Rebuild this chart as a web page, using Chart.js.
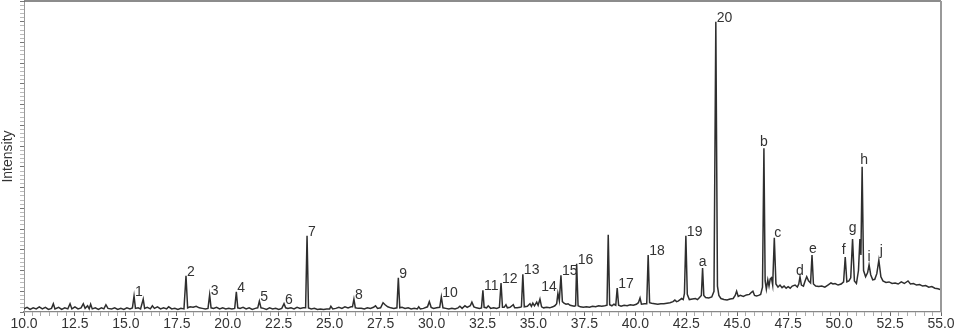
<!DOCTYPE html>
<html lang="en">
<head>
  <meta charset="UTF-8" />
  <title>Chromatogram</title>
  <script src="https://cdn.jsdelivr.net/npm/chart.js"></script>
  <style>
    body { margin: 0; background: #fff; }
    #wrap { width: 957px; height: 331px; }
  </style>
</head>
<body>
<div id="wrap"><canvas id="chrom" width="957" height="331"></canvas></div>
<script>
  // retention time (min) and detector response
  const times = [
    10.0, 10.15, 10.3, 10.45, 10.6, 10.75, 10.9, 11.05, 11.2, 11.35, 11.44, 11.52, 11.7, 11.85,
    12.0, 12.15, 12.26, 12.35, 12.5, 12.65, 12.8, 12.91, 13.0, 13.12, 13.2, 13.27, 13.35, 13.5,
    13.65, 13.8, 13.92, 14.02, 14.12, 14.3, 14.45, 14.6, 14.75, 14.9, 15.05, 15.2, 15.32, 15.40,
    15.47, 15.6, 15.72, 15.85, 15.92, 16.05, 16.2, 16.3, 16.4, 16.55, 16.7, 16.85, 17.0, 17.1,
    17.25, 17.4, 17.55, 17.7, 17.85, 17.95, 18.03, 18.15, 18.3, 18.45, 18.6, 18.75, 18.9, 19.03,
    19.11, 19.18, 19.3, 19.45, 19.6, 19.75, 19.9, 20.05, 20.2, 20.34, 20.42, 20.49, 20.6, 20.75,
    20.9, 21.05, 21.2, 21.35, 21.47, 21.55, 21.63, 21.75, 21.9, 22.05, 22.2, 22.35, 22.5, 22.65,
    22.76, 22.84, 22.95, 23.1, 23.25, 23.4, 23.55, 23.7, 23.82, 23.89, 23.96, 24.1, 24.25, 24.4,
    24.55, 24.7, 24.85, 25.0, 25.06, 25.15, 25.3, 25.45, 25.6, 25.75, 25.9, 26.05, 26.12, 26.19,
    26.26, 26.4, 26.55, 26.7, 26.85, 27.0, 27.15, 27.25, 27.35, 27.5, 27.62, 27.72, 27.85, 28.0,
    28.15, 28.3, 28.37, 28.44, 28.55, 28.7, 28.85, 29.0, 29.15, 29.3, 29.37, 29.45, 29.6, 29.8,
    29.89, 29.98, 30.1, 30.25, 30.4, 30.48, 30.56, 30.7, 30.85, 31.0, 31.15, 31.3, 31.39, 31.5,
    31.64, 31.75, 31.9, 31.98, 32.08, 32.2, 32.35, 32.45, 32.52, 32.58, 32.7, 32.78, 32.9, 33.05,
    33.2, 33.33, 33.41, 33.48, 33.56, 33.65, 33.72, 33.85, 34.01, 34.08, 34.2, 34.35, 34.41, 34.48,
    34.55, 34.7, 34.83, 34.9, 34.97, 35.05, 35.16, 35.23, 35.32, 35.4, 35.5, 35.65, 35.8, 35.95,
    36.05, 36.14, 36.2, 36.27, 36.35, 36.42, 36.5, 36.6, 36.7, 36.8, 36.9, 37.0, 37.07, 37.12,
    37.19, 37.3, 37.45, 37.6, 37.75, 37.9, 38.05, 38.2, 38.35, 38.5, 38.61, 38.67, 38.74, 38.85,
    38.95, 39.04, 39.11, 39.18, 39.3, 39.45, 39.6, 39.75, 39.9, 40.05, 40.15, 40.23, 40.3, 40.45,
    40.56, 40.63, 40.7, 40.8, 40.95, 41.1, 41.25, 41.4, 41.55, 41.7, 41.85, 41.94, 42.02, 42.1,
    42.2, 42.27, 42.35, 42.41, 42.48, 42.55, 42.65, 42.8, 42.95, 43.05, 43.15, 43.24, 43.30, 43.36,
    43.45, 43.6, 43.75, 43.86, 43.95, 44.03, 44.1, 44.2, 44.35, 44.5, 44.65, 44.8, 44.9, 44.97,
    45.05, 45.15, 45.3, 45.45, 45.6, 45.7, 45.77, 45.85, 45.95, 46.05, 46.15, 46.24, 46.31, 46.37,
    46.43, 46.5, 46.56, 46.62, 46.68, 46.74, 46.82, 46.9, 47.0, 47.1, 47.2, 47.3, 47.4, 47.5,
    47.6, 47.7, 47.84, 47.95, 48.02, 48.08, 48.15, 48.25, 48.33, 48.41, 48.5, 48.6, 48.67, 48.74,
    48.85, 49.0, 49.15, 49.3, 49.45, 49.6, 49.7, 49.8, 49.95, 50.1, 50.22, 50.30, 50.38, 50.48,
    50.57, 50.66, 50.75, 50.85, 50.95, 51.02, 51.07, 51.13, 51.2, 51.3, 51.4, 51.47, 51.55, 51.65,
    51.75, 51.85, 51.95, 52.05, 52.15, 52.3, 52.45, 52.6, 52.75, 52.9, 53.05, 53.2, 53.38, 53.5,
    53.65, 53.8, 53.95, 54.1, 54.25, 54.4, 54.55, 54.7, 54.85, 55.0
  ];
  const intensity = [
    3, 4.5, 2.5, 4, 3, 5, 3, 4.5, 2.5, 3.5, 8, 3, 4.5, 2.5,
    4, 3, 8, 3, 5, 3, 4, 8, 3.5, 6, 3, 7.5, 3, 4,
    2.5, 4, 3, 7, 3.5, 3, 4, 2.5, 3.5, 2.5, 4, 3, 4, 15.5,
    3.5, 4, 3, 12.5, 3.5, 4.5, 3, 6, 3.5, 5, 3, 4, 3, 5,
    3, 3.5, 2.5, 3.5, 3, 35, 4, 5, 4.5, 5.5, 4, 3.5, 3, 3.5,
    16.5, 4, 3.5, 4.5, 3, 4, 3, 3.5, 3, 3.5, 19.5, 4, 3.5, 4.5,
    3, 4, 2.5, 3.5, 4, 10.5, 4, 3.5, 2.5, 4, 3, 3.5, 2.5, 3.5,
    8, 4, 3.5, 4, 3, 4.5, 3.5, 4, 4, 73.5, 4, 3, 3.5, 2.5,
    3, 2.5, 3, 3, 5.5, 3, 3.5, 4.5, 3.5, 5, 4, 5, 5, 12.5,
    4, 3.5, 3.5, 3, 4, 3.5, 4.5, 6, 3.5, 4, 9, 7, 5, 4,
    3.5, 4, 33, 4, 4.5, 3.5, 4, 3, 3.5, 3, 5, 3, 3.5, 5,
    10, 4.5, 3.5, 4, 4.5, 14.5, 4, 3.5, 3, 3.5, 3, 4, 5.5, 3.5,
    6, 4.5, 6, 9.5, 5, 4, 3.5, 4, 21, 4.5, 4, 6, 3.5, 4,
    3.5, 4.5, 28, 4.5, 4.5, 7, 4, 4.5, 7, 4, 4, 4.5, 5, 36.5,
    5, 5.5, 8, 5.5, 8.5, 6, 9.5, 6.5, 12.5, 5, 4, 4.5, 4, 5,
    6, 8, 18, 11, 35.5, 10, 8.5, 7.5, 8, 6.5, 6, 5.5, 6, 46.5,
    6, 5, 4.5, 5, 4.5, 5.5, 5, 6, 5.5, 6, 6.5, 74.5, 7, 6,
    7.5, 6.5, 23, 6.5, 5.5, 6.5, 6, 7, 6.5, 7.5, 9, 13.5, 7.5, 8,
    8, 55, 9, 8.5, 8, 7.5, 8, 8, 8.5, 9, 10, 11.5, 10, 10.5,
    12, 13, 12, 18, 73.5, 17, 12, 12.5, 13, 12, 14, 16, 42.5, 16,
    14, 13.5, 14.5, 20, 280, 25, 16, 13, 12, 11.5, 12.5, 13, 16, 20,
    15, 16, 15, 16.5, 17, 19, 20, 16, 15.5, 16, 17, 24, 158, 30,
    22, 31, 25, 32, 33, 26, 71.5, 27, 24, 26, 23.5, 25, 23, 24.5,
    23, 25, 26, 24, 27, 34, 26, 25, 30, 34, 30, 28, 55, 27,
    25, 24.5, 25, 24, 26, 28, 27, 27.5, 26, 27, 29, 53, 29, 30,
    33, 70.5, 30, 27.5, 40, 70.5, 55, 140, 40, 34, 38, 45.5, 36, 31,
    31.5, 37, 50, 34, 30, 28.5, 29, 27.5, 28, 27, 29, 27.5, 30, 27,
    27.5, 26, 26.5, 25, 25.5, 24, 24.5, 23, 22.5, 21.5
  ];

  // peak annotations
  const peakNames = ['1', '2', '3', '4', '5', '6', '7', '8', '9', '10', '11', '12', '13', '14', '15',
    '16', '17', '18', '19', '20', 'a', 'b', 'c', 'd', 'e', 'f', 'g', 'h', 'i', 'j'];
  const peakTimes = [15.40, 17.95, 19.11, 20.42, 21.55, 22.76, 23.89, 26.19, 28.37, 30.48, 32.52,
    33.41, 34.48, 36.2, 36.35, 37.12, 39.11, 40.63, 42.48, 43.95, 43.30, 46.31, 46.82, 48.08,
    48.67, 50.30, 50.66, 51.13, 51.47, 51.95];

  const xMin = 10, xMax = 55, xMajor = 2.5, xMinorPerMajor = 6;
  const yMin = 0, yMax = 300, yMajor = 20, yMinorPerMajor = 5;

  // label placement: [align, dx, dy above apex]
  const labelStyle = {
    '14': ['right', -1, 2],
    a: ['center', 0, 1.5], b: ['center', 0, 2.5], c: ['left', 0, 0.5], d: ['center', 0, 2],
    e: ['center', 1, 2], f: ['right', 0.5, 3.5], g: ['center', 0, 6.5], h: ['center', 2, 2.5],
    i: ['center', 0, 3.5], j: ['left', 1, 5]
  };

  const font = "'Liberation Sans', Arial, sans-serif";

  function makeTicks(min, max, major, per) {
    const out = [];
    const n = Math.round((max - min) / major) * per;
    for (let k = 0; k <= n; k++) {
      out.push({ value: min + k * major / per, major: k % per === 0 });
    }
    return out;
  }

  const peakLabels = {
    id: 'peakLabels',
    afterDatasetsDraw(chart) {
      const { ctx, scales: { x, y } } = chart;
      ctx.save();
      ctx.font = '14px ' + font;
      ctx.fillStyle = '#333';
      ctx.textBaseline = 'alphabetic';
      peakNames.forEach((name, k) => {
        let best = 0;
        times.forEach((t, i) => {
          if (Math.abs(t - peakTimes[k]) < Math.abs(times[best] - peakTimes[k])) best = i;
        });
        const st = labelStyle[name] || ['left', 1, 0];
        const px = x.getPixelForValue(times[best]);
        const py = y.getPixelForValue(intensity[best]);
        ctx.textAlign = st[0];
        ctx.fillText(name, px + st[1], py - st[2]);
      });
      ctx.restore();
    }
  };

  const frame = {
    id: 'frame',
    afterDraw(chart) {
      const { ctx, chartArea: a } = chart;
      ctx.save();
      ctx.strokeStyle = '#666';
      ctx.lineWidth = 1.5;
      ctx.beginPath();
      ctx.moveTo(a.left, a.top);
      ctx.lineTo(a.right, a.top);
      ctx.stroke();
      ctx.strokeStyle = '#999';
      ctx.lineWidth = 2;
      ctx.beginPath();
      ctx.moveTo(a.right, a.top);
      ctx.lineTo(a.right, a.bottom);
      ctx.stroke();
      ctx.restore();
    }
  };

  new Chart(document.getElementById('chrom'), {
    type: 'line',
    data: {
      datasets: [{
        data: times.map((t, i) => ({ x: t, y: intensity[i] })),
        borderColor: '#2e2e2e',
        borderWidth: 1.5,
        pointRadius: 0,
        tension: 0,
        fill: false
      }]
    },
    options: {
      responsive: false,
      animation: false,
      layout: { padding: { left: 0, right: 16, top: 1, bottom: 0 } },
      plugins: { legend: { display: false }, tooltip: { enabled: false } },
      scales: {
        x: {
          type: 'linear',
          min: xMin,
          max: xMax,
          afterBuildTicks: s => { s.ticks = makeTicks(xMin, xMax, xMajor, xMinorPerMajor); },
          afterFit: s => { s.height = 19; },
          ticks: {
            autoSkip: false,
            maxRotation: 0,
            padding: 0,
            color: '#333',
            font: { family: font, size: 14 },
            callback: (v, i, ticks) => ticks[i].major ? v.toFixed(1) : ''
          },
          grid: {
            drawOnChartArea: false,
            tickLength: 4,
            tickColor: c => c.tick && c.tick.major ? '#666' : '#aaa'
          },
          border: { color: '#888', width: 1.2 }
        },
        y: {
          min: yMin,
          max: yMax,
          afterBuildTicks: s => { s.ticks = makeTicks(yMin, yMax, yMajor, yMinorPerMajor); },
          afterFit: s => { s.width = 24; },
          ticks: { display: false },
          grid: {
            drawOnChartArea: false,
            tickLength: 4,
            tickColor: c => c.tick && c.tick.major ? '#777' : '#bbb'
          },
          border: { color: '#999', width: 1 },
          title: {
            display: true,
            text: 'Intensity',
            color: '#333',
            font: { family: font, size: 14 },
            padding: { top: 0, bottom: 0 }
          }
        }
      }
    },
    plugins: [peakLabels, frame]
  });
</script>
</body>
</html>
